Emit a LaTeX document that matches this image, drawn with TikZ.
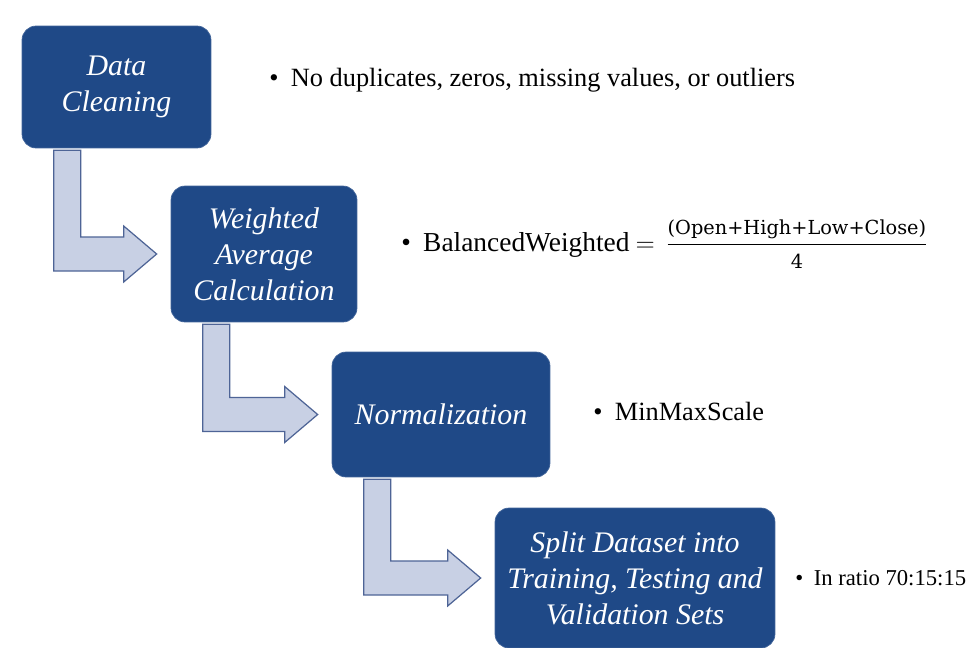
\documentclass[tikz,border=0pt]{standalone}
\usepackage{amsmath}
\usepackage{fontspec}
\setmainfont{Liberation Serif}
\newfontfamily\fracfont{DejaVu Serif}
\usetikzlibrary{calc}
\definecolor{stageblue}{RGB}{31,73,135}
\definecolor{bentfill}{RGB}{200,208,228}
\definecolor{bentline}{RGB}{78,100,150}
\tikzset{
    stage/.style={fill=stageblue, draw=stageblue!85!white, rounded corners=8pt, text=white,
        align=center, inner sep=0pt, font=\fontsize{17}{20.5}\selectfont\itshape},
    note/.style={anchor=west, inner sep=0pt, font=\fontsize{15}{18}\selectfont},
    bent/.style={fill=bentfill, draw=bentline, line width=0.7pt, line join=miter},
}

\begin{document}
\begin{tikzpicture}[x=0.02cm, y=-0.02cm]
    \useasboundingbox[fill=white] (0,0) rectangle (971,647);

    \node[stage, minimum width=3.78cm, minimum height=2.44cm] (clean) at (116.5,87) {Data\\Cleaning};
    \node[stage, minimum width=3.72cm, minimum height=2.72cm] (avg) at (264,254) {Weighted\\Average\\Calculation};
    \node[stage, minimum width=4.36cm, minimum height=2.5cm] (norm) at (441,414.5) {Normalization};
    \node[stage, minimum width=5.6cm, minimum height=2.8cm] (split) at (635,578) {Split Dataset into\\Training, Testing and\\Validation Sets};

    \foreach \from/\to in {clean/avg, avg/norm, norm/split} {
        \coordinate (a) at ($(\from.south west)+(32,2)$);
        \coordinate (t) at ($(\to.west)+(-14,0)$);
        \draw[bent] (a) -- ++(27,0) |- ($(t)+(-33,-17)$) -- ($(t)+(-33,-28)$) -- (t)
            -- ($(t)+(-33,28)$) -- ($(t)+(-33,17)$) -| (a) -- cycle;
    }

    \node[note] (dup) at (269,80) {\textbullet\hspace{7pt}No duplicates, zeros, missing values, or outliers};
    \node[note, font=\fontsize{15.6}{18}\selectfont] (bw) at (401,244) {\textbullet\hspace{7pt}BalancedWeighted\hspace{3.5pt}$=$\hspace{6pt}%
        $\dfrac{\mbox{\fracfont\fontsize{11}{13}\selectfont (Open+High+Low+Close)}}{\mbox{\fracfont\fontsize{11}{13}\selectfont 4}\rule{0pt}{11pt}}$};
    \node[note] (mms) at (593,411) {\textbullet\hspace{7pt}MinMaxScale};
    \node[note, font=\fontsize{12.9}{15}\selectfont] (ratio) at (795,578) {\textbullet\hspace{6pt}In ratio 70:15:15};
\end{tikzpicture}
\end{document}
